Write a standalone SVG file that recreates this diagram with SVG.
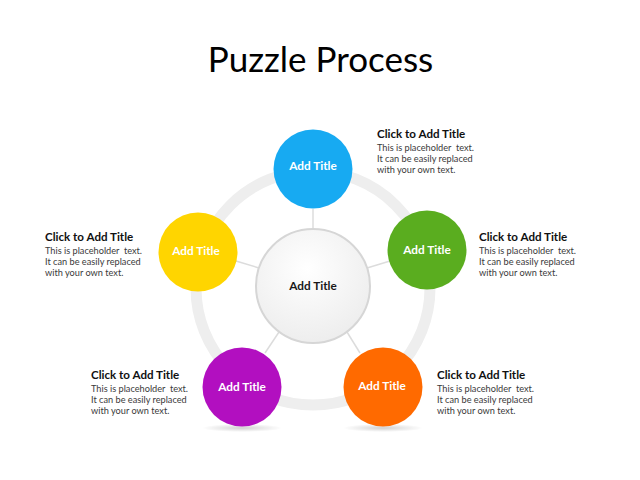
<svg xmlns="http://www.w3.org/2000/svg" width="640" height="480" viewBox="0 0 640 480">
<style>
.title{font-family:Lato,"Open Sans","Liberation Sans",sans-serif;font-size:35px;fill:#000}
.ct{font-family:Lato,"Open Sans","Liberation Sans",sans-serif;font-size:11.6px;font-weight:bold;fill:#111}
.cb{font-family:Lato,"Open Sans","Liberation Sans",sans-serif;font-size:9.2px;fill:#3a3a3a;white-space:pre}
.lbl{font-family:Lato,"Open Sans","Liberation Sans",sans-serif;font-size:11.8px;font-weight:bold;fill:#fff;text-anchor:middle}
.lblc{font-family:Lato,"Open Sans","Liberation Sans",sans-serif;font-size:11.8px;font-weight:bold;fill:#1a1a1a;text-anchor:middle}
.conn{stroke:#dcdcdc;stroke-width:1.5;fill:none}
</style>
<defs>
<radialGradient id="cg" cx="0.45" cy="0.35" r="0.7">
<stop offset="0" stop-color="#ffffff"/>
<stop offset="1" stop-color="#ececec"/>
</radialGradient>
<radialGradient id="sh" cx="0.5" cy="0.5" r="0.5">
<stop offset="0" stop-color="#000" stop-opacity="0.18"/>
<stop offset="1" stop-color="#000" stop-opacity="0"/>
</radialGradient>
</defs>
<rect width="640" height="480" fill="#fff"/>
<text class="title" x="320.5" y="72" text-anchor="middle">Puzzle Process</text>
<circle cx="313" cy="288" r="117" fill="none" stroke="#eeeeee" stroke-width="11"/>
<g id="connectors">
<line class="conn" x1="313" y1="229" x2="313" y2="209"/>
<line class="conn" x1="367" y1="268" x2="390" y2="261"/>
<line class="conn" x1="347" y1="332" x2="360" y2="353"/>
<line class="conn" x1="279" y1="332" x2="265" y2="353"/>
<line class="conn" x1="259" y1="268" x2="236" y2="261"/>
</g>
<ellipse cx="242" cy="428" rx="40" ry="4" fill="url(#sh)"/>
<ellipse cx="383" cy="428" rx="40" ry="4" fill="url(#sh)"/>
<g id="center">
<circle cx="313" cy="286" r="57" fill="url(#cg)" stroke="#d6d6d6" stroke-width="2"/>
<text class="lblc" x="313" y="290">Add Title</text>
</g>
<g id="n1">
<circle cx="313" cy="169" r="39.5" fill="#17aaf2"/>
<text class="lbl" x="313" y="170">Add Title</text>
</g>
<g id="n2">
<circle cx="427" cy="250" r="39.5" fill="#5aad1f"/>
<text class="lbl" x="427" y="254">Add Title</text>
</g>
<g id="n3">
<circle cx="383" cy="387" r="39.5" fill="#ff6a00"/>
<text class="lbl" x="382" y="390">Add Title</text>
</g>
<g id="n4">
<circle cx="242" cy="387" r="39.5" fill="#b20fc0"/>
<text class="lbl" x="242" y="391">Add Title</text>
</g>
<g id="n5">
<circle cx="198" cy="252" r="39.5" fill="#ffd500"/>
<text class="lbl" x="196" y="255">Add Title</text>
</g>
<g id="t1">
<text class="ct" x="377" y="138">Click to Add Title</text>
<text class="cb" x="377" y="150.5">This is placeholder  text.</text>
<text class="cb" x="377" y="161.5">It can be easily replaced</text>
<text class="cb" x="377" y="172.5">with your own text.</text>
</g>
<g id="t2">
<text class="ct" x="479" y="241">Click to Add Title</text>
<text class="cb" x="479" y="253.5">This is placeholder  text.</text>
<text class="cb" x="479" y="264.5">It can be easily replaced</text>
<text class="cb" x="479" y="275.5">with your own text.</text>
</g>
<g id="t3">
<text class="ct" x="45" y="241">Click to Add Title</text>
<text class="cb" x="45" y="253.5">This is placeholder  text.</text>
<text class="cb" x="45" y="264.5">It can be easily replaced</text>
<text class="cb" x="45" y="275.5">with your own text.</text>
</g>
<g id="t4">
<text class="ct" x="91" y="379">Click to Add Title</text>
<text class="cb" x="91" y="391.5">This is placeholder  text.</text>
<text class="cb" x="91" y="402.5">It can be easily replaced</text>
<text class="cb" x="91" y="413.5">with your own text.</text>
</g>
<g id="t5">
<text class="ct" x="437" y="379">Click to Add Title</text>
<text class="cb" x="437" y="391.5">This is placeholder  text.</text>
<text class="cb" x="437" y="402.5">It can be easily replaced</text>
<text class="cb" x="437" y="413.5">with your own text.</text>
</g>
</svg>
